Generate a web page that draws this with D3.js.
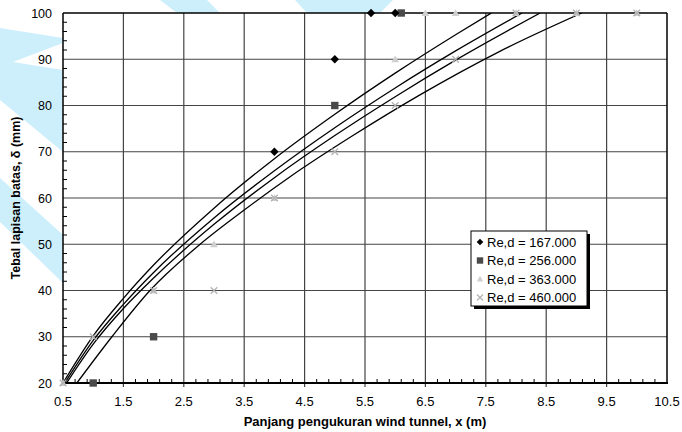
<!DOCTYPE html>
<html>
<head>
<meta charset="utf-8">
<script src="https://d3js.org/d3.v7.min.js"></script>
<style>
  body { margin: 0; background: #fff; }
  text { font-family: Arial, "Liberation Sans", sans-serif; fill: #000; }
</style>
</head>
<body>
<svg id="chart" width="682" height="432"></svg>
<script>
// tick values
const xTicks = [0.5, 1.5, 2.5, 3.5, 4.5, 5.5, 6.5, 7.5, 8.5, 9.5, 10.5];
const yTicks = [20, 30, 40, 50, 60, 70, 80, 90, 100];

// measured points (x in m, delta in mm)
const re167 = [[4, 70], [5, 90], [5.6, 100], [6, 100]];
const re256 = [[1, 20], [2, 30], [5, 80], [6.1, 100]];
const re363 = [[0.5, 20], [2, 40], [3, 50], [4, 60], [6, 90], [6.5, 100], [7, 100], [8, 100], [9, 100], [10, 100]];
const re460 = [[0.5, 20], [1, 30], [2, 40], [3, 40], [4, 60], [5, 70], [6, 80], [7, 90], [8, 100], [9, 100], [10, 100]];

// trend curves, points
const trendA = [[0.5, 20], [1, 30.2], [1.5, 38.3], [2, 45.5], [3, 57.8], [4, 68.5], [5, 78.1], [6, 87.0], [7, 95.3], [7.59, 100]];
const trendB = [[0.53, 20], [1, 29.2], [1.5, 37.0], [2, 43.9], [3, 55.7], [4, 65.9], [5, 75.2], [6, 83.8], [7, 91.8], [8.1, 100]];
const trendC = [[0.56, 20], [1, 28.4], [1.5, 36.1], [2, 42.7], [3, 54.3], [4, 64.4], [5, 73.5], [6, 81.9], [7, 89.8], [8.4, 100]];
const trendD = [[0.73, 20], [1.31, 30], [1.94, 40], [2.77, 50], [3.5, 57.4], [4.26, 64.6], [5.3, 73.5], [6.41, 82.3], [7.7, 91.5], [9.09, 100]];

const legendLabels = ["Re,d = 167.000", "Re,d = 256.000", "Re,d = 363.000", "Re,d = 460.000"];

const svg = d3.select("#chart");
const pL = 63, pT = 13, pR = 667, pB = 383;

// light blue watermark behind the chart
const wm = svg.append("g").attr("fill", "#cdeffb");
wm.append("path").attr("d", "M0,28 L63,38 L63,43 L13,62 L63,70 L63,152 L0,100 Z");
wm.append("path").attr("d", "M0,178 L63,235 L63,283 L0,222 Z");
wm.append("path").attr("d", "M295,0 L393,0 L380,13 L307,13 Z");
wm.append("path").attr("d", "M160,0 L207,0 L220,13 L177,13 Z");

const x = d3.scaleLinear().domain([0.5, 10.5]).range([pL, pR]);
const y = d3.scaleLinear().domain([20, 100]).range([pB, pT]);

svg.append("rect").attr("x", pL).attr("y", pT)
  .attr("width", pR - pL).attr("height", pB - pT).attr("fill", "#fff");

// grid
svg.append("g").selectAll("line").data(xTicks.slice(1, -1)).join("line")
  .attr("x1", d => x(d)).attr("x2", d => x(d))
  .attr("y1", pT).attr("y2", pB + 4)
  .attr("stroke", "#444").attr("stroke-width", 1.2);
svg.append("g").selectAll("line").data(yTicks.slice(1, -1)).join("line")
  .attr("x1", pL).attr("x2", pR)
  .attr("y1", d => y(d)).attr("y2", d => y(d))
  .attr("stroke", "#444").attr("stroke-width", 1.2);

// minor ticks
const xMinor = d3.range(0.5, 10.5, 0.2).filter(v => Math.abs((v - 0.5) % 1) > 0.05 && Math.abs((v - 0.5) % 1) < 0.95);
svg.append("g").selectAll("line").data(xMinor).join("line")
  .attr("x1", d => x(d)).attr("x2", d => x(d))
  .attr("y1", pB).attr("y2", pB - 4)
  .attr("stroke", "#000");
const yMinor = d3.range(22, 100, 2).filter(v => v % 10 !== 0);
svg.append("g").selectAll("line").data(yMinor).join("line")
  .attr("x1", pL).attr("x2", pL + 4)
  .attr("y1", d => y(d)).attr("y2", d => y(d))
  .attr("stroke", "#000");

// frame
svg.append("line").attr("x1", pL).attr("x2", pR).attr("y1", pT).attr("y2", pT).attr("stroke", "#000").attr("stroke-width", 1.5);
svg.append("line").attr("x1", pR).attr("x2", pR).attr("y1", pT).attr("y2", pB).attr("stroke", "#000").attr("stroke-width", 1.5);
svg.append("line").attr("x1", pL).attr("x2", pL).attr("y1", pT).attr("y2", pB).attr("stroke", "#000").attr("stroke-width", 1.5);
svg.append("line").attr("x1", pL - 1).attr("x2", pR + 1).attr("y1", pB).attr("y2", pB).attr("stroke", "#000").attr("stroke-width", 2.2);

// tick labels
svg.append("g").selectAll("text").data(xTicks).join("text")
  .attr("x", d => x(d)).attr("y", pB + 23)
  .attr("text-anchor", "middle").style("font-size", "13px")
  .text(d => d.toFixed(1));
svg.append("g").selectAll("text").data(yTicks).join("text")
  .attr("x", pL - 11).attr("y", d => y(d) + 4.5)
  .attr("text-anchor", "end").style("font-size", "12.5px")
  .text(d => d);

// axis titles
svg.append("text").attr("x", (pL + pR) / 2).attr("y", pB + 43)
  .attr("text-anchor", "middle").style("font-size", "13px").style("font-weight", "bold")
  .text("Panjang pengukuran wind tunnel, x (m)");
svg.append("text").attr("transform", `translate(20,${(pT + pB) / 2}) rotate(-90)`)
  .attr("text-anchor", "middle").style("font-size", "12.5px").style("font-weight", "bold")
  .text("Tebal lapisan batas, δ (mm)");

// trend curves
svg.append("clipPath").attr("id", "plotClip").append("rect")
  .attr("x", pL).attr("y", pT).attr("width", pR - pL).attr("height", pB - pT);
const line = d3.line().x(d => x(d[0])).y(d => y(d[1])).curve(d3.curveMonotoneX);
svg.append("g").attr("clip-path", "url(#plotClip)")
  .selectAll("path").data([trendA, trendB, trendC, trendD]).join("path")
  .attr("d", line).attr("fill", "none").attr("stroke", "#000").attr("stroke-width", 1.3);

// marker shapes
function marker(g, kind, s) {
  if (kind === 0) g.append("path").attr("d", `M0,${-s}L${s},0L0,${s}L${-s},0Z`).attr("fill", "#000");
  else if (kind === 1) g.append("rect").attr("x", -s).attr("y", -s).attr("width", 2 * s).attr("height", 2 * s).attr("fill", "#4a4a4a");
  else if (kind === 2) g.append("path").attr("d", `M0,${-s}L${s},${s * 0.8}L${-s},${s * 0.8}Z`).attr("fill", "#cfcfcf");
  else g.append("path").attr("d", `M${-s},${-s}L${s},${s}M${-s},${s}L${s},${-s}`).attr("stroke", "#b3b3b3").attr("stroke-width", 1.3).attr("fill", "none");
}

const series = [re167, re256, re363, re460];
const sizes = [4.2, 3.7, 3.8, 3.3];
[2, 3, 1, 0].forEach(k => {
  svg.append("g").selectAll("g").data(series[k]).join("g")
    .attr("transform", d => `translate(${x(d[0])},${y(d[1])})`)
    .each(function () { marker(d3.select(this), k, sizes[k]); });
});

// legend
const lg = svg.append("g").attr("transform", "translate(471,231)");
lg.append("rect").attr("x", 3).attr("y", 3).attr("width", 116).attr("height", 75).attr("fill", "#000");
lg.append("rect").attr("x", 0).attr("y", 0).attr("width", 116).attr("height", 75).attr("fill", "#fff").attr("stroke", "#000").attr("stroke-width", 1);
legendLabels.forEach((t, i) => {
  const row = lg.append("g").attr("transform", `translate(9,${11 + i * 18.5})`);
  marker(row, i, [3.3, 3.2, 3.2, 3][i]);
  row.append("text").attr("x", 7).attr("y", 4.8).style("font-size", "13px").text(t);
});
</script>
</body>
</html>
